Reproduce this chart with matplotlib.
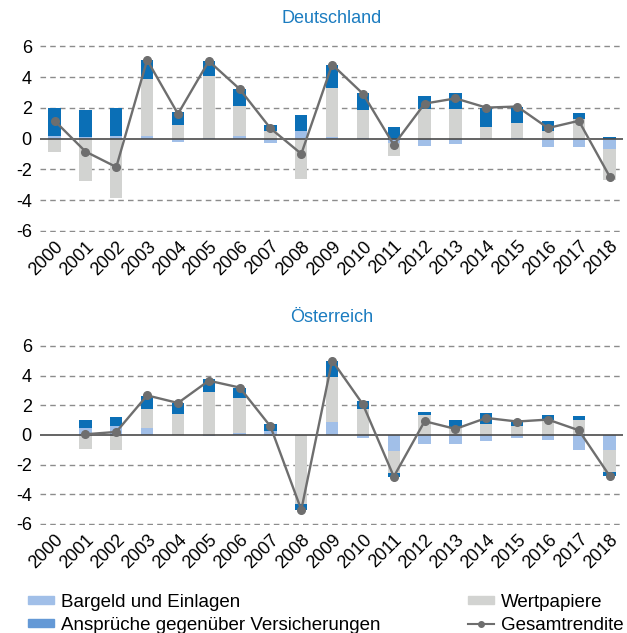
import numpy as np
import matplotlib
matplotlib.use("Agg")
import matplotlib.pyplot as plt
import matplotlib.transforms as mtransforms
from matplotlib.patches import Patch
from matplotlib.lines import Line2D

plt.rcParams["font.family"] = ["Liberation Sans", "DejaVu Sans"]

years = [str(y) for y in range(2000, 2019)]

# Deutschland
de_bargeld = [0.20, 0.08, 0.17, 0.17, -0.20, 0.05, 0.17, -0.30, 0.49, 0.10,
              0.03, -0.30, -0.49, -0.32, 0.00, 0.02, -0.54, -0.56, -0.69]
de_wertpapiere = [-0.90, -2.77, -3.87, 3.70, 0.90, 4.05, 1.98, 0.52, -2.60, 3.20,
                  1.83, -0.86, 1.96, 1.96, 0.77, 0.97, 0.47, 1.25, -2.02]
de_versicherungen = [1.80, 1.81, 1.81, 1.25, 0.86, 0.95, 1.08, 0.38, 1.08, 1.51,
                     1.12, 0.73, 0.79, 0.99, 1.25, 1.10, 0.71, 0.43, 0.13]
de_gesamt = [1.16, -0.84, -1.85, 5.12, 1.61, 5.05, 3.23, 0.67, -0.99, 4.82,
             2.92, -0.41, 2.28, 2.62, 2.02, 2.09, 0.69, 1.16, -2.47]

# Oesterreich
at_bargeld = [0.00, 0.44, 0.59, 0.46, 0.00, -0.10, 0.13, 0.29, 0.00, 0.88,
              -0.24, -1.12, -0.64, -0.59, -0.40, -0.22, -0.37, -0.99, -0.99]
at_wertpapiere = [0.00, -0.95, -1.03, 1.28, 1.41, 2.88, 2.33, -0.10, -4.63, 3.01,
                  1.71, -1.45, 1.34, 0.55, 0.73, 0.59, 0.99, 1.03, -1.49]
at_versicherungen = [0.00, 0.55, 0.64, 0.88, 0.74, 0.88, 0.73, 0.41, -0.45, 1.12,
                     0.60, -0.29, 0.18, 0.44, 0.76, 0.44, 0.37, 0.24, -0.29]
at_gesamt = [np.nan, 0.04, 0.20, 2.66, 2.15, 3.65, 3.19, 0.57, -5.05, 5.01,
             2.05, -2.81, 0.92, 0.40, 1.14, 0.90, 1.03, 0.31, -2.77]

C_BARG = "#a1bfe8"
C_WERT = "#d2d3d1"
C_VERS = "#0b6fb6"
C_LINE = "#6e6e6e"
C_TITLE = "#1b7cc0"


def stacked(ax, parts, colors):
    x = np.arange(len(years))
    pos = np.zeros(len(years))
    neg = np.zeros(len(years))
    for vals, color in zip(parts, colors):
        v = np.array(vals)
        bottom = np.where(v >= 0, pos, neg)
        ax.bar(x, v, 0.4, bottom=bottom, color=color, edgecolor="none", zorder=2)
        pos += np.where(v >= 0, v, 0)
        neg += np.where(v < 0, v, 0)


def panel(fig, ax, title, barg, wert, vers, total):
    x = np.arange(len(years))
    stacked(ax, [barg, wert, vers], [C_BARG, C_WERT, C_VERS])
    ax.plot(x, total, color=C_LINE, lw=1.7, marker="o", ms=5.5, zorder=4)
    ax.axhline(0, color="#4a4a4a", lw=1.2, zorder=3)
    for y in [-6, -4, -2, 2, 4, 6]:
        ax.axhline(y, color="#8c8c8c", lw=1, ls=(0, (4, 3)), zorder=1)
    ax.set_ylim(-6.1, 6.1)
    ax.set_xlim(-0.47, 18.42)
    ax.set_yticks([-6, -4, -2, 0, 2, 4, 6])
    ax.set_yticklabels(["-6", "-4", "-2", "0", "2", "4", "6"], fontsize=13)
    ax.set_xticks(x)
    ax.set_xticklabels(years, rotation=45, ha="right", rotation_mode="anchor",
                       fontsize=13)
    shift = mtransforms.ScaledTranslation(5 / 72, -2 / 72, fig.dpi_scale_trans)
    for lab in ax.get_xticklabels():
        lab.set_transform(lab.get_transform() + shift)
    ax.tick_params(length=0, pad=4)
    ax.tick_params(axis="y", pad=6)
    for s in ax.spines.values():
        s.set_visible(False)
    ax.set_title(title, color=C_TITLE, fontsize=13, pad=16)


fig = plt.figure(figsize=(6.27, 6.33), dpi=100)
ax1 = fig.add_axes([0.064, 0.633, 0.929, 0.296])
ax2 = fig.add_axes([0.064, 0.170, 0.929, 0.286])

panel(fig, ax1, "Deutschland", de_bargeld, de_wertpapiere, de_versicherungen, de_gesamt)
panel(fig, ax2, "Österreich", at_bargeld, at_wertpapiere, at_versicherungen, at_gesamt)

h_left = [Patch(color=C_BARG), Patch(color="#6499d6")]
h_right = [Patch(color=C_WERT),
           Line2D([], [], color=C_LINE, lw=1.5, marker="o", ms=4)]
kw = dict(frameon=False, fontsize=13.5, handlelength=1.39, handleheight=0.28,
          labelspacing=0.3, handletextpad=0.37)
fig.legend(h_left, ["Bargeld und Einlagen", "Ansprüche gegenüber Versicherungen"],
           loc="lower left", bbox_to_anchor=(0.018, -0.028), **kw)
fig.legend(h_right, ["Wertpapiere", "Gesamtrendite"],
           loc="lower left", bbox_to_anchor=(0.719, -0.028), **kw)

fig.savefig("out.png", dpi=100)
